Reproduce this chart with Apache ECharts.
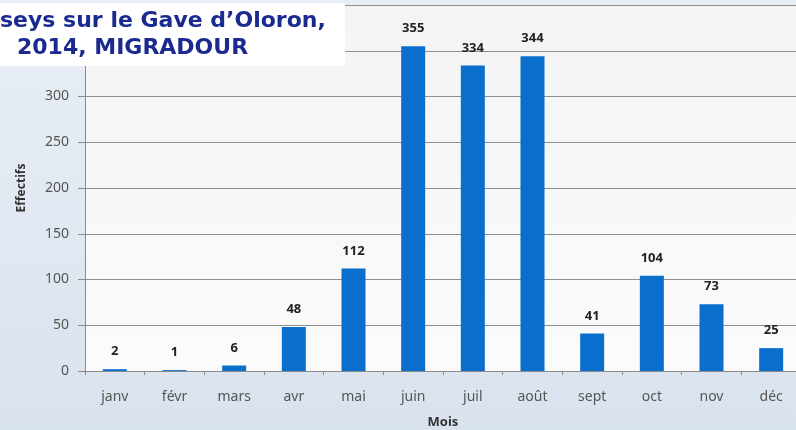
<!DOCTYPE html>
<html>
<head>
<meta charset="utf-8">
<style>
  html, body { margin: 0; padding: 0; }
  #main { width: 796px; height: 430px; }
</style>
<script src="https://cdn.jsdelivr.net/npm/echarts@6/dist/echarts.min.js"></script>
</head>
<body>
<div id="main"></div>
<script>
// données
var mois = ['janv', 'févr', 'mars', 'avr', 'mai', 'juin', 'juil', 'août', 'sept', 'oct', 'nov', 'déc'];
var effectifs = [2, 1, 6, 48, 112, 355, 334, 344, 41, 104, 73, 25];
var titreLignes = ['seys sur le Gave d\u2019Oloron,', '2014, MIGRADOUR'];

var myChart = echarts.init(document.getElementById('main'));

var option = {
    backgroundColor: {
        type: 'linear', x: 0, y: 0, x2: 0, y2: 1,
        colorStops: [{offset: 0, color: '#e9eef5'}, {offset: 1, color: '#d9e3ee'}]
    },
    animation: false,
    grid: {
        left: 85, right: -5, top: 5, bottom: 59,
        outerBoundsMode: 'none',
        containLabel: false,
        show: true,
        borderWidth: 0,
        backgroundColor: {
            type: 'linear', x: 0, y: 0, x2: 0, y2: 1,
            colorStops: [{offset: 0, color: '#f4f4f4'}, {offset: 1, color: '#fbfbfb'}]
        }
    },
    xAxis: {
        type: 'category',
        data: mois,
        name: 'Mois',
        nameLocation: 'middle',
        nameGap: 45,
        nameTextStyle: {color: '#333', fontWeight: 'bold', fontSize: 13, fontFamily: 'Noto Sans'},
        axisLine: {lineStyle: {color: '#8a8a8a'}},
        axisTick: {show: true, length: 4, lineStyle: {color: '#8a8a8a'}},
        axisLabel: {color: '#555', fontSize: 14, margin: 19, fontFamily: 'Noto Sans'}
    },
    yAxis: {
        type: 'value',
        min: 0, max: 400, interval: 50,
        name: 'Effectifs',
        nameLocation: 'middle',
        nameGap: 57,
        nameTextStyle: {color: '#333', fontWeight: 'bold', fontSize: 12, fontFamily: 'Noto Sans'},
        axisLine: {show: true, lineStyle: {color: '#8a8a8a'}},
        axisTick: {show: true, length: 7, lineStyle: {color: '#8a8a8a'}},
        axisLabel: {color: '#555', fontSize: 14, margin: 16, fontFamily: 'Noto Sans', showMaxLabel: false},
        splitLine: {lineStyle: {color: '#8f8f8f', width: 1}}
    },
    series: [{
        type: 'bar',
        data: effectifs,
        barWidth: 24,
        itemStyle: {color: '#0a6fcc'},
        label: {
            show: true, position: 'top', distance: 11,
            color: '#222', fontWeight: 'bold', fontSize: 13, fontFamily: 'Noto Sans'
        }
    }],
    graphic: [{
        type: 'rect',
        shape: {x: 0, y: 3, width: 345, height: 63},
        style: {fill: '#ffffff'},
        z: 100
    }, {
        type: 'text',
        x: 0, y: 10,
        style: {
            text: titreLignes[0],
            font: 'bold 22px "DejaVu Sans"',
            fill: '#1a2a8e'
        },
        z: 101
    }, {
        type: 'text',
        x: 17, y: 37,
        style: {
            text: titreLignes[1],
            font: 'bold 22px "DejaVu Sans"',
            fill: '#1a2a8e'
        },
        z: 101
    }]
};

myChart.setOption(option);
window.addEventListener('resize', function() {
    myChart.resize();
});
</script>
</body>
</html>
